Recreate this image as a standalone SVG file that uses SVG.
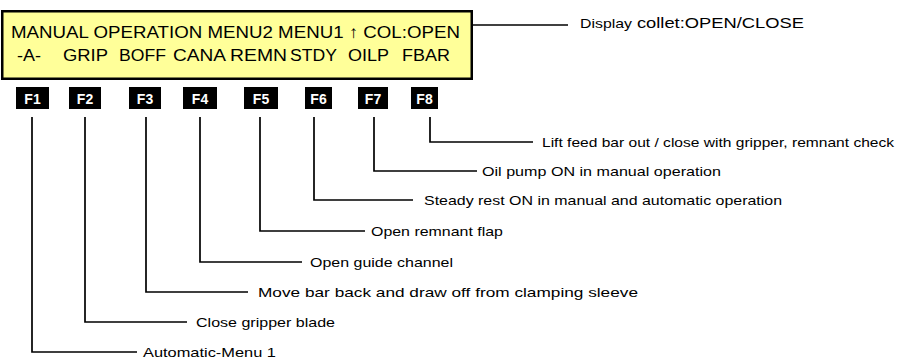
<svg xmlns="http://www.w3.org/2000/svg" width="904" height="360" viewBox="0 0 904 360">
<style>
.disp{font-family:"Liberation Sans",Arial,sans-serif;font-size:17px;fill:#000}
.key rect{fill:#000}
.key text{font-family:"Liberation Sans",Arial,sans-serif;font-size:14px;font-weight:bold;fill:#fff;text-anchor:middle}
.lbl{font-family:"Liberation Sans",Arial,sans-serif;font-size:12px;fill:#000}
.conn{fill:none;stroke:#000;stroke-width:1.7}
</style>
<rect width="904" height="360" fill="#fff"/>
<g id="display">
<rect x="2.25" y="11.25" width="469.5" height="67.5" fill="#FFFF99" stroke="#000" stroke-width="2.5"/>
<g transform="scale(1.08,1)">
<text class="disp" x="10.2" y="38" textLength="415.7" lengthAdjust="spacingAndGlyphs">MANUAL OPERATION MENU2 MENU1 ↑ COL:OPEN</text>
<text class="disp" x="15.7" y="61" textLength="22.2" lengthAdjust="spacingAndGlyphs">-A-</text>
<text class="disp" x="58.3" y="61" textLength="41.7" lengthAdjust="spacingAndGlyphs">GRIP</text>
<text class="disp" x="110.2" y="61" textLength="43.5" lengthAdjust="spacingAndGlyphs">BOFF</text>
<text class="disp" x="160.2" y="61" textLength="49.1" lengthAdjust="spacingAndGlyphs">CANA</text>
<text class="disp" x="213" y="61" textLength="52.8" lengthAdjust="spacingAndGlyphs">REMN</text>
<text class="disp" x="268.5" y="61" textLength="43.5" lengthAdjust="spacingAndGlyphs">STDY</text>
<text class="disp" x="322.2" y="61" textLength="38" lengthAdjust="spacingAndGlyphs">OILP</text>
<text class="disp" x="372.2" y="61" textLength="44.4" lengthAdjust="spacingAndGlyphs">FBAR</text>
</g>
</g>
<g id="key-F1" class="key"><rect x="16" y="87" width="33" height="22"/><text x="32.5" y="103.5">F1</text></g>
<g id="key-F2" class="key"><rect x="69" y="87" width="32" height="22"/><text x="85" y="103.5">F2</text></g>
<g id="key-F3" class="key"><rect x="129" y="87" width="32" height="22"/><text x="145" y="103.5">F3</text></g>
<g id="key-F4" class="key"><rect x="183" y="87" width="34" height="22"/><text x="200" y="103.5">F4</text></g>
<g id="key-F5" class="key"><rect x="244" y="87" width="34" height="22"/><text x="261" y="103.5">F5</text></g>
<g id="key-F6" class="key"><rect x="305" y="87" width="27" height="22"/><text x="318.5" y="103.5">F6</text></g>
<g id="key-F7" class="key"><rect x="358" y="87" width="30" height="22"/><text x="373" y="103.5">F7</text></g>
<g id="key-F8" class="key"><rect x="411" y="87" width="27" height="22"/><text x="424.5" y="103.5">F8</text></g>
<g id="connectors" class="conn">
<path d="M473 25H568"/>
<path d="M430 117V142H533"/>
<path d="M374 117V171H477"/>
<path d="M314 117V200H413"/>
<path d="M260 117V231H365"/>
<path d="M200 117V262H302"/>
<path d="M146 117V292H248"/>
<path d="M85 117V322H187"/>
<path d="M32 117V352H137"/>
</g>
<g id="label-display"><text class="lbl" transform="translate(580,28) scale(1.3,1)" y="0"><tspan x="0" font-size="12" textLength="40" lengthAdjust="spacingAndGlyphs">Display</tspan><tspan x="43.8" font-size="14.5" textLength="128.5" lengthAdjust="spacingAndGlyphs">collet:OPEN/CLOSE</tspan></text></g>
<g id="label-F8"><text class="lbl" transform="translate(542,146.5) scale(1.3,1)" textLength="270.8" lengthAdjust="spacingAndGlyphs">Lift feed bar out / close with gripper, remnant check</text></g>
<g id="label-F7"><text class="lbl" transform="translate(482,175.5) scale(1.3,1)" textLength="183.8" lengthAdjust="spacingAndGlyphs">Oil pump ON in manual operation</text></g>
<g id="label-F6"><text class="lbl" transform="translate(424,204.5) scale(1.3,1)" textLength="275.4" lengthAdjust="spacingAndGlyphs">Steady rest ON in manual and automatic operation</text></g>
<g id="label-F5"><text class="lbl" transform="translate(371,235.5) scale(1.3,1)" textLength="101.5" lengthAdjust="spacingAndGlyphs">Open remnant flap</text></g>
<g id="label-F4"><text class="lbl" transform="translate(310,266.5) scale(1.3,1)" textLength="110" lengthAdjust="spacingAndGlyphs">Open guide channel</text></g>
<g id="label-F3"><text class="lbl" transform="translate(258,296.5) scale(1.3,1)" textLength="292.3" lengthAdjust="spacingAndGlyphs">Move bar back and draw off from clamping sleeve</text></g>
<g id="label-F2"><text class="lbl" transform="translate(196,326.5) scale(1.3,1)" textLength="106.9" lengthAdjust="spacingAndGlyphs">Close gripper blade</text></g>
<g id="label-F1"><text class="lbl" transform="translate(143,356.5) scale(1.3,1)" textLength="102.3" lengthAdjust="spacingAndGlyphs">Automatic-Menu 1</text></g>
</svg>
